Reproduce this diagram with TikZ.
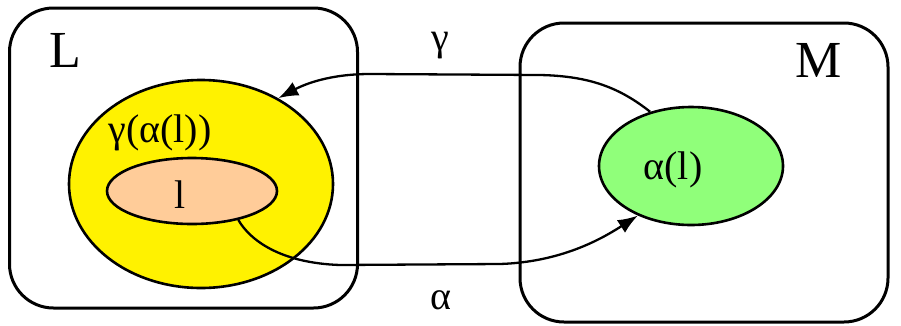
\documentclass[tikz,border=0pt]{standalone}
\usepackage{fontspec}
\setmainfont{Liberation Serif}
\usetikzlibrary{shapes.geometric,arrows.meta}
\definecolor{peach}{RGB}{255,204,153}
\definecolor{lgreen}{RGB}{144,255,122}
\tikzset{
  setbox/.style={draw, line width=3pt, rounded corners=44pt, inner sep=0pt},
  blob/.style={ellipse, draw, line width=2.6pt, inner sep=0pt},
  conn/.style={line width=2.3pt, -{Latex[length=20pt,width=15pt]}},
  big/.style={font=\fontsize{52}{54}\selectfont, inner sep=0pt},
  lab/.style={font=\fontsize{40}{42}\selectfont, inner sep=0pt},
}
\begin{document}
\begin{tikzpicture}[x=1pt,y=-1pt]
\useasboundingbox (0,0) rectangle (901,325);
\node[setbox, minimum width=348pt, minimum height=300pt] (Lbox) at (183.5,158) {};
\node[setbox, minimum width=368pt, minimum height=299pt] (Mbox) at (704,172.5) {};
\node[big] (Ltxt) at (65,50) {L};
\node[big] (Mtxt) at (819,60) {M};
\node[blob, fill=yellow, minimum width=264pt, minimum height=208pt] (Y) at (201,184) {};
\node[blob, fill=peach, minimum width=170pt, minimum height=66pt] (O) at (192,191) {};
\node[blob, fill=lgreen, minimum width=184pt, minimum height=118pt] (G) at (691,166) {};
\node[lab] (ga) at (160,133) {γ(α(l))};
\node[lab] (l) at (180,195) {l};
\node[lab] (al) at (673,170) {α(l)};
\node[lab] (gl) at (440,46) {γ};
\node[lab] (alab) at (441,300) {α};
\draw[conn] (G.127) .. controls (620,88) and (590,76) .. (540,75) -- (370,74) .. controls (330,74) and (305,84) .. (Y.48);
\draw[conn] (O.-32) .. controls (250,240) and (280,263) .. (340,265) -- (500,264) .. controls (560,262) and (600,240) .. (G.223);
\end{tikzpicture}
\end{document}
